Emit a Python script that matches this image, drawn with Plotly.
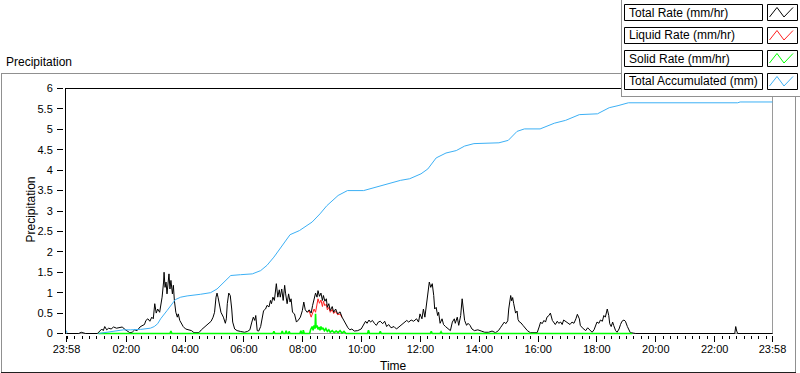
import plotly.graph_objects as go

# ---------------- data (minutes after midnight; 23:58 of previous day = -2) ----------------
tick_minutes = [-2, 120, 240, 360, 480, 600, 720, 840, 960, 1080, 1200, 1320, 1438]
tick_labels = ["23:58", "02:00", "04:00", "06:00", "08:00", "10:00", "12:00",
               "14:00", "16:00", "18:00", "20:00", "22:00", "23:58"]

total_rate_pts = [
    (-2, 0), (23, 0), (28, 0.03), (32, 0.02), (37, 0), (61, 0), (66, 0.07), (70, 0.11), (73, 0.07),
    (76, 0.17), (80, 0.09), (84, 0.13), (89, 0.11), (94, 0.16), (100, 0.13), (105, 0.15), (112, 0.16),
    (116, 0.11), (122, 0.07), (127, 0.02), (132, 0.03), (137, 0.09), (142, 0.07), (148, 0.16),
    (152, 0.19), (157, 0.22), (160, 0.32), (164, 0.36), (168, 0.30), (172, 0.40), (175, 0.36),
    (178, 0.73), (181, 0.50), (184, 0.60), (188, 0.52), (190, 0.64), (193, 0.89), (196, 1.26),
    (197, 1.50), (199, 1.13), (201, 1.26), (203, 0.97), (205, 1.22), (207, 1.46), (209, 1.09),
    (211, 1.30), (214, 0.97), (216, 1.18), (218, 0.81), (221, 0.52), (224, 0.40), (226, 0.48),
    (229, 0.32), (232, 0.25), (236, 0.17), (241, 0.11), (248, 0.09), (253, 0.07), (258, 0.02),
    (268, 0.02), (273, 0.09), (278, 0.14), (284, 0.19), (288, 0.24), (293, 0.30), (297, 0.40),
    (300, 0.52), (303, 0.89), (305, 0.99), (307, 0.89), (309, 0.73), (313, 0.52), (318, 0.40),
    (322, 0.25), (324, 0.36), (326, 0.73), (329, 0.99), (332, 0.93), (335, 0.60), (337, 0.28),
    (341, 0.11), (346, 0.07), (353, 0.05), (361, 0.03), (367, 0.05), (372, 0.09), (376, 0.28),
    (379, 0.40), (382, 0.32), (384, 0.44), (387, 0.07), (390, 0.06), (394, 0.17), (397, 0.36),
    (400, 0.56), (404, 0.60), (407, 0.69), (411, 0.65), (414, 0.81), (416, 0.73), (419, 0.89),
    (422, 0.81), (424, 1.07), (426, 1.22), (429, 0.89), (432, 1.07), (434, 0.89), (437, 1.09),
    (440, 0.81), (443, 1.18), (445, 0.97), (448, 0.73), (451, 0.97), (454, 0.77), (456, 0.85),
    (459, 0.52), (463, 0.48), (467, 0.28), (471, 0.33), (475, 0.40), (479, 0.56), (482, 0.77),
    (485, 0.58), (489, 0.52), (493, 0.58), (497, 0.50), (500, 0.69), (503, 0.81), (506, 0.99),
    (509, 0.89), (511, 1.05), (514, 0.91), (517, 0.99), (520, 0.81), (522, 0.93), (525, 0.79),
    (528, 0.85), (530, 0.64), (533, 0.73), (536, 0.56), (540, 0.66), (543, 0.52), (547, 0.60),
    (551, 0.48), (556, 0.53), (560, 0.40), (564, 0.30), (568, 0.22), (572, 0.14), (576, 0.09),
    (580, 0.11), (585, 0.06), (592, 0.07), (599, 0.11), (604, 0.20), (608, 0.30), (611, 0.25),
    (615, 0.33), (618, 0.28), (622, 0.32), (626, 0.25), (630, 0.20), (634, 0.28), (638, 0.30),
    (643, 0.24), (647, 0.30), (651, 0.17), (655, 0.22), (660, 0.14), (666, 0.17), (671, 0.11),
    (676, 0.16), (681, 0.22), (686, 0.28), (692, 0.32), (696, 0.28), (701, 0.33), (706, 0.30),
    (712, 0.36), (716, 0.28), (719, 0.48), (723, 0.36), (726, 0.60), (729, 0.40), (732, 0.69),
    (736, 0.97), (738, 1.26), (741, 1.13), (744, 1.22), (747, 0.93), (749, 0.60), (752, 0.64),
    (755, 0.44), (757, 0.52), (760, 0.25), (764, 0.36), (767, 0.22), (771, 0.17), (776, 0.11),
    (781, 0.07), (785, 0.28), (789, 0.36), (791, 0.25), (795, 0.40), (798, 0.20), (802, 0.44),
    (805, 0.85), (808, 0.60), (810, 0.32), (814, 0.20), (817, 0.25), (821, 0.20), (825, 0.11),
    (830, 0.07), (837, 0.09), (844, 0.06), (851, 0.03), (859, 0.03), (866, 0.06), (873, 0.02),
    (879, 0.07), (883, 0.14), (887, 0.22), (891, 0.28), (894, 0.24), (898, 0.31), (900, 0.60),
    (902, 0.82), (904, 0.93), (906, 0.80), (908, 0.88), (910, 0.74), (912, 0.62), (914, 0.50),
    (917, 0.55), (919, 0.34), (922, 0.28), (925, 0.26), (929, 0.20), (934, 0.12), (938, 0.07),
    (944, 0.02), (958, 0.02), (962, 0.16), (965, 0.28), (968, 0.24), (972, 0.32), (975, 0.28),
    (978, 0.40), (982, 0.44), (985, 0.50), (989, 0.32), (992, 0.28), (995, 0.22), (999, 0.30),
    (1002, 0.25), (1006, 0.28), (1009, 0.22), (1012, 0.33), (1016, 0.30), (1021, 0.25),
    (1025, 0.22), (1029, 0.28), (1033, 0.25), (1037, 0.36), (1040, 0.47), (1044, 0.36),
    (1046, 0.20), (1050, 0.14), (1053, 0.11), (1057, 0.07), (1061, 0.14), (1065, 0.09),
    (1070, 0.03), (1074, 0.09), (1077, 0.17), (1080, 0.28), (1084, 0.25), (1087, 0.33),
    (1091, 0.30), (1094, 0.44), (1097, 0.40), (1101, 0.60), (1104, 0.44), (1106, 0.24),
    (1109, 0.17), (1112, 0.28), (1114, 0.20), (1118, 0.07), (1121, 0.03), (1125, 0.11),
    (1128, 0.22), (1131, 0.30), (1135, 0.33), (1138, 0.30), (1142, 0.17), (1145, 0.07),
    (1148, 0.02), (1154, 0.01), (1159, 0), (1361, 0), (1363, 0.17), (1365, 0.06), (1367, 0),
    (1438, 0),
]

liquid_rate_pts = [
    (490, 0.52), (493, 0.55), (497, 0.40), (500, 0.52), (503, 0.60), (506, 0.52), (509, 0.70),
    (511, 0.85), (514, 0.74), (517, 0.82), (520, 0.66), (522, 0.79), (525, 0.68), (528, 0.72),
    (530, 0.58), (533, 0.64), (536, 0.52), (540, 0.59), (543, 0.49), (547, 0.54), (551, 0.46),
    (556, 0.48), (560, 0.39),
]

solid_rate_pts = [
    (63, 0), (209, 0), (211, 0.06), (213, 0), (419, 0), (421, 0.05), (423, 0), (436, 0),
    (438, 0.06), (440, 0), (444, 0), (446, 0.07), (448, 0), (451, 0), (452, 0.05), (454, 0),
    (474, 0), (476, 0.07), (478, 0), (480, 0), (481, 0.08), (483, 0), (494, 0), (496, 0.10),
    (499, 0.17), (501, 0.08), (503, 0.20), (505, 0.12), (506, 0.48), (507, 0.15), (509, 0.20),
    (511, 0.10), (513, 0.16), (515, 0.08), (517, 0.17), (519, 0.10), (521, 0.14), (524, 0.07),
    (527, 0.12), (530, 0.05), (533, 0.09), (536, 0.03), (540, 0.07), (544, 0.02), (548, 0.06),
    (552, 0.02), (556, 0.07), (560, 0.01), (564, 0.05), (568, 0), (612, 0), (614, 0.08),
    (616, 0), (636, 0), (638, 0.05), (640, 0), (740, 0), (742, 0.05), (744, 0), (760, 0),
    (762, 0.04), (764, 0), (1152, 0),
]

accumulated_pts = [
    (-2, 0.07), (-1, 0.01), (None, None),
    (63, 0.0), (74, 0.02), (94, 0.06), (114, 0.09), (129, 0.09), (149, 0.10), (169, 0.13),
    (177, 0.17), (184, 0.24), (190, 0.36), (203, 0.56), (214, 0.73), (220, 0.83), (231, 0.89),
    (244, 0.92), (271, 0.96), (292, 1.00), (305, 1.09), (319, 1.26), (333, 1.42), (353, 1.44),
    (377, 1.46), (394, 1.54), (407, 1.67), (421, 1.87), (435, 2.11), (454, 2.42), (473, 2.52),
    (499, 2.73), (515, 2.93), (529, 3.13), (552, 3.38), (571, 3.50), (604, 3.50), (627, 3.58),
    (651, 3.67), (679, 3.75), (698, 3.79), (721, 3.91), (735, 4.03), (752, 4.30), (772, 4.42),
    (793, 4.48), (810, 4.59), (829, 4.65), (880, 4.67), (899, 4.73), (917, 4.95), (932, 5.01),
    (964, 5.01), (993, 5.15), (1016, 5.22), (1044, 5.36), (1081, 5.38), (1105, 5.53),
    (1123, 5.58), (1144, 5.65), (1367, 5.65), (1372, 5.67), (1438, 5.67),
]

series_names = ["Total Rate (mm/hr)", "Liquid Rate (mm/hr)", "Solid Rate (mm/hr)", "Total Accumulated (mm)"]
series_colors = ["#000000", "#ff2020", "#00ff00", "#3cb0f5"]

# ---------------- geometry helpers (pixel -> paper) ----------------
W, H = 800, 373
ML, MR, MT, MB = 63, 27, 88, 38
PW = W - ML - MR
PH = H - MT - MB


def px(x):
    return (x - ML) / PW


def py(y):
    return (H - MB - y) / PH


FONT = "Liberation Sans, Arial, sans-serif"


def unzip(pts):
    return [p[0] for p in pts], [p[1] for p in pts]


fig = go.Figure()
order = [(1, liquid_rate_pts), (0, total_rate_pts), (2, solid_rate_pts), (3, accumulated_pts)]
for idx, pts in order:
    xs, ys = unzip(pts)
    fig.add_trace(go.Scatter(x=xs, y=ys, mode="lines", name=series_names[idx],
                             line=dict(color=series_colors[idx], width=1.6 if idx == 2 else 1),
                             connectgaps=False, showlegend=False, hoverinfo="skip"))

ppu_x = 706 / 1440.0
ppu_y = 245 / 6.0
x_range = [-2 - 0.5 / ppu_x, 1438 + 0.5 / ppu_x]
y_range = [0 - 1.5 / ppu_y, 6 + 0.5 / ppu_y]

fig.update_layout(
    width=W, height=H, autosize=False,
    margin=dict(l=ML, r=MR, t=MT, b=MB, pad=0),
    paper_bgcolor="white", plot_bgcolor="rgba(0,0,0,0)",
    font=dict(family=FONT, size=12, color="black"),
    showlegend=False,
    xaxis=dict(domain=[px(66), 1], range=x_range, anchor="free", position=0,
               showline=False, showgrid=False, zeroline=False, automargin=False,
               tickmode="array", tickvals=tick_minutes, ticktext=tick_labels,
               ticks="outside", ticklen=6, tickwidth=1, tickcolor="black",
               ticklabelstandoff=-2,
               tickfont=dict(family=FONT, size=11, color="black"),
               minor=dict(tickmode="linear", tick0=0, dtick=15, ticks="outside",
                          ticklen=3, tickwidth=1, tickcolor="black", showgrid=False)),
    yaxis=dict(domain=[0, 1], range=y_range, anchor="free", position=0,
               showline=False, showgrid=False, zeroline=False, automargin=False,
               tickmode="linear", tick0=0, dtick=0.5,
               ticks="outside", ticklen=6, tickwidth=1, tickcolor="black",
               ticklabelstandoff=2,
               tickfont=dict(family=FONT, size=11, color="black")),
)

shapes = []


def hline(x0, x1, y, color, layer="below", width=1):
    shapes.append(dict(type="line", xref="paper", yref="paper", x0=px(x0), x1=px(x1),
                       y0=py(y), y1=py(y), line=dict(color=color, width=width), layer=layer))


def vline(x, y0, y1, color, layer="below", width=1):
    shapes.append(dict(type="line", xref="paper", yref="paper", x0=px(x), x1=px(x),
                       y0=py(y0), y1=py(y1), line=dict(color=color, width=width), layer=layer))


# outer frame
hline(1, 621, 73.5, "#909090")
vline(1.5, 73, 372, "#909090")
vline(795.5, 96, 372, "#909090")
hline(1, 796, 372.5, "#202020")
# plot area border
hline(65, 773, 88.5, "black")
vline(65.5, 88, 334, "black")
vline(772.5, 88, 334, "#9a9a9a")
hline(66, 773, 333.5, "#9a9a9a")
# legend panel
shapes.append(dict(type="rect", xref="paper", yref="paper", x0=px(621), x1=px(800),
                   y0=py(0), y1=py(96.5), line=dict(width=0), fillcolor="white", layer="above"))
vline(621.5, 0, 97, "#909090", layer="above")
hline(621, 800, 96.5, "#909090", layer="above")

row_tops = [4, 27, 50, 73]
annotations = []
for i, top in enumerate(row_tops):
    bot = top + 17
    shapes.append(dict(type="rect", xref="paper", yref="paper", x0=px(624.5), x1=px(762.5),
                       y0=py(top + 0.5), y1=py(bot - 0.5), line=dict(color="black", width=1),
                       fillcolor="white", layer="above"))
    shapes.append(dict(type="rect", xref="paper", yref="paper", x0=px(767.5), x1=px(797.5),
                       y0=py(top + 0.5), y1=py(bot - 0.5), line=dict(color="black", width=1),
                       fillcolor="white", layer="above"))
    zz = [(769.5, bot - 4), (777, top + 3.5), (784, bot - 4), (793, top + 3.5)]
    path = "M " + " L ".join(f"{px(a):.5f},{py(b):.5f}" for a, b in zz)
    shapes.append(dict(type="path", xref="paper", yref="paper", path=path,
                       line=dict(color=series_colors[i], width=1), layer="above"))
    annotations.append(dict(text=series_names[i], xref="paper", yref="paper",
                            x=px(627), y=py(top + 8.5), xanchor="left", yanchor="middle",
                            showarrow=False, font=dict(family=FONT, size=12, color="black")))

annotations.append(dict(text="Precipitation", xref="paper", yref="paper", x=px(4), y=py(62),
                        xanchor="left", yanchor="middle", showarrow=False,
                        font=dict(family=FONT, size=12, color="black")))
annotations.append(dict(text="Precipitation", xref="paper", yref="paper", x=px(30.5), y=py(210),
                        xanchor="center", yanchor="middle", textangle=-90, showarrow=False,
                        font=dict(family=FONT, size=12, color="black")))
annotations.append(dict(text="Time", xref="paper", yref="paper", x=px(393), y=py(365.5),
                        xanchor="center", yanchor="middle", showarrow=False,
                        font=dict(family=FONT, size=12, color="black")))

fig.update_layout(shapes=shapes, annotations=annotations)
fig.write_html("out.html", config={"displayModeBar": False},
               post_script="document.body.style.margin='0';document.body.style.padding='0';")
